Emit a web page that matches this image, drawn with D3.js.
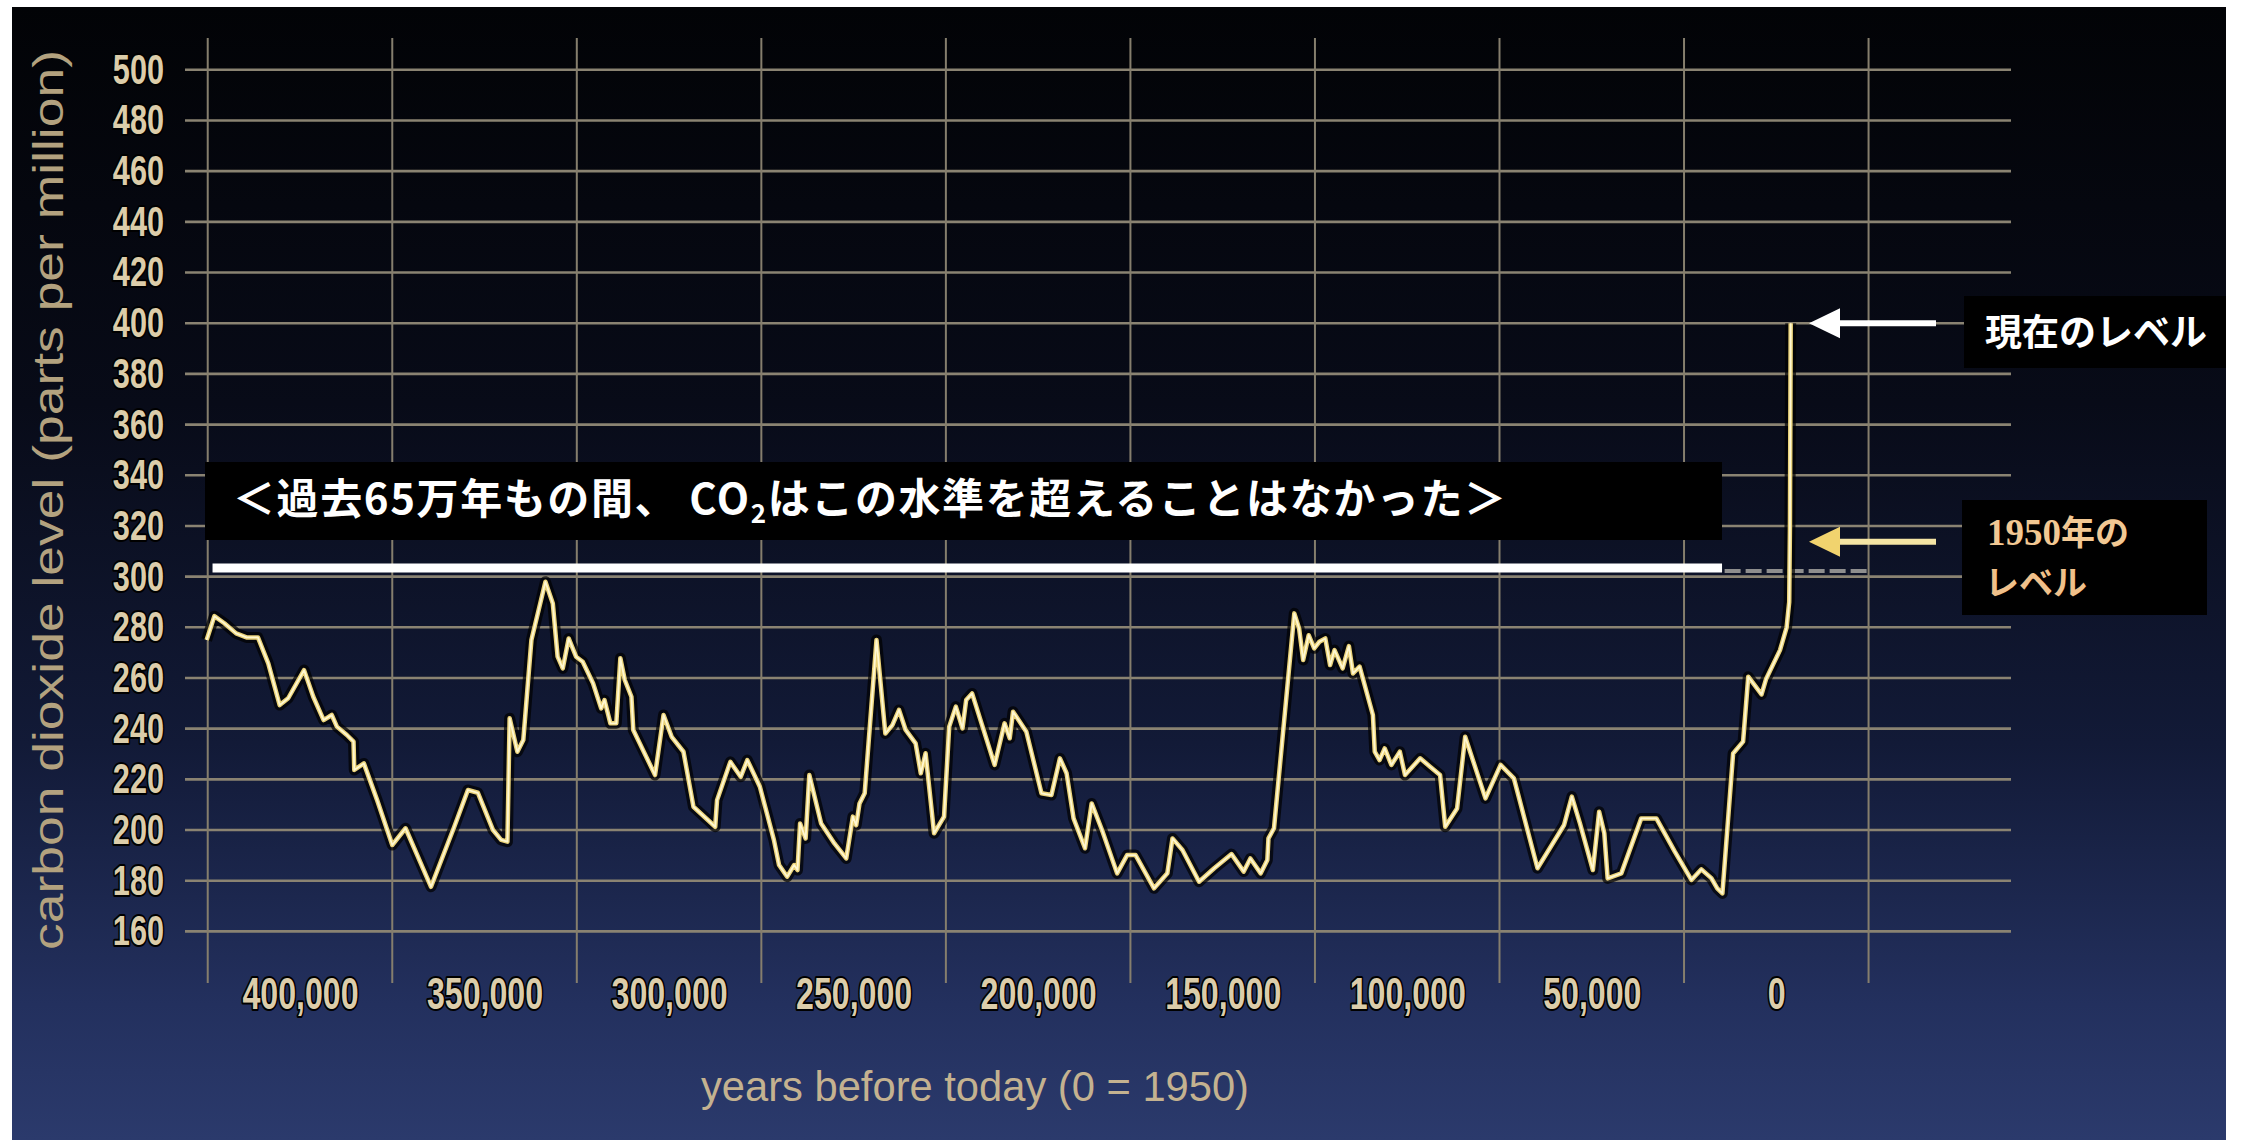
<!DOCTYPE html>
<html>
<head>
<meta charset="utf-8">
<script src="https://cdn.jsdelivr.net/npm/d3@7"></script>
<style>
body { margin:0; background:#ffffff; }
</style>
</head>
<body>
<div id="canvas"></div>
<script>
// thousands of years before 1950
var kyr = [425.3,423.2,420.5,417.3,414.5,411.4,408.6,405.5,403.2,398.9,396.4,393.6,391.4,390.0,387.3,385.5,385.3,382.7,379.1,375.0,
  371.4,364.5,358.2,354.5,351.8,347.7,345.5,343.8,343.2,341.1,339.5,337.3,333.5,331.5,330.2,328.8,327.2,325.2,323.4,320.6,
  318.4,317.5,315.9,314.3,313.2,312.0,310.2,309.7,303.8,301.5,299.3,296.1,293.4,287.5,287.0,283.4,280.6,278.8,275.4,271.6,
  270.2,268.0,266.1,265.2,264.5,263.0,262.0,258.8,255.2,252.0,250.2,249.3,248.4,247.0,243.8,241.4,239.5,237.7,235.9,233.2,
  231.8,230.5,228.2,225.5,224.1,222.3,220.5,219.5,217.9,211.8,209.1,207.7,206.8,203.2,199.1,196.4,194.1,192.3,190.4,187.3,
  185.5,182.7,178.6,175.9,173.6,168.6,165.0,163.6,160.9,156.4,152.3,147.6,144.3,142.5,139.7,137.9,137.6,136.1,130.6,129.3,
  128.2,126.7,125.2,123.8,122.2,120.9,119.7,117.5,115.8,114.7,112.9,109.3,108.8,107.5,106.1,104.3,102.0,100.6,96.5,93.8,
  91.1,89.7,86.5,84.3,78.8,74.7,71.1,64.7,57.5,55.4,53.2,49.7,48.0,46.6,45.7,42.0,36.6,32.5,27.5,23.0,
  20.3,17.6,16.0,14.6,11.7,9.0,7.6,4.0,2.8,-1.0,-2.8,-3.5,-3.7,-3.9];
var ppm = [275.0,284.4,281.6,277.6,276.0,276.0,265.8,249.3,252.0,263.1,252.6,243.4,245.4,240.8,237.5,234.9,223.7,226.3,211.8,194.1,
  200.7,177.6,201.3,215.8,214.7,200.0,196.1,195.4,244.1,230.9,235.5,275.0,298.0,289.4,268.4,263.8,275.6,268.4,266.4,257.9,
  248.0,251.3,242.1,242.1,267.8,259.2,252.6,239.5,221.7,245.4,236.8,230.9,209.2,201.3,211.8,226.9,221.0,227.6,217.1,196.1,
  186.2,181.6,186.2,184.2,202.6,196.7,221.7,202.6,194.7,188.8,205.3,201.9,210.5,214.5,275.0,238.1,241.4,247.4,239.5,234.2,
  222.4,230.3,198.7,205.3,240.8,248.7,240.1,251.3,253.9,225.7,242.1,236.2,246.7,238.8,214.5,213.8,228.3,222.4,204.6,192.8,
  210.5,200.0,182.9,190.1,190.1,177.0,182.9,196.7,192.1,179.6,184.9,190.5,183.6,188.8,182.9,188.2,196.7,200.7,285.5,279.6,
  267.1,276.9,271.7,274.3,275.6,265.1,271.0,263.8,272.6,261.8,264.5,245.4,230.9,227.6,232.2,225.7,230.9,221.7,228.3,225.0,
  221.7,201.3,208.5,236.8,212.5,225.7,220.4,184.9,202.0,213.2,202.6,184.2,207.2,198.7,180.9,182.9,204.6,204.6,191.5,180.3,
  184.5,181.0,177.0,175.0,230.2,234.9,260.5,253.5,259.5,271.0,280.0,290.0,320.0,400.0];

var yTicks = [160,180,200,220,240,260,280,300,320,340,360,380,400,420,440,460,480,500];
var xTicks = [400,350,300,250,200,150,100,50,0];
var xGrid = [425,375,325,275,225,175,125,75,25,-25];

var levelNow = 400;     // 現在のレベル
var level1950 = 313.8;  // 1950年のレベル
var ceiling = 303.4;    // white line the record never crossed
var ceilingSpan = [423.7, 14.7];
var dashSpan = [14.0, -25];

var svg = d3.select('#canvas').append('svg')
  .attr('width', 2244)
  .attr('height', 1148);

var grad = svg.append('defs').append('linearGradient')
  .attr('id', 'bg').attr('x1', 0).attr('y1', 0).attr('x2', 0).attr('y2', 1);
grad.append('stop').attr('offset', '0%').attr('stop-color', '#020306');
grad.append('stop').attr('offset', '35%').attr('stop-color', '#080b18');
grad.append('stop').attr('offset', '65%').attr('stop-color', '#121a37');
grad.append('stop').attr('offset', '88%').attr('stop-color', '#23305e');
grad.append('stop').attr('offset', '100%').attr('stop-color', '#2b3a6c');

svg.append('rect')
  .attr('x', 12).attr('y', 7)
  .attr('width', 2214).attr('height', 1133)
  .attr('fill', 'url(#bg)');

var x = d3.scaleLinear().domain([400, 0]).range([300, 1776.3]);
var y = d3.scaleLinear().domain([160, 500]).range([931.4, 69.8]);

// grid
svg.selectAll('.hgrid').data(yTicks).enter().append('line')
  .attr('class', 'hgrid')
  .attr('x1', 185).attr('x2', 2011)
  .attr('y1', function(d) { return y(d); })
  .attr('y2', function(d) { return y(d); })
  .attr('stroke', '#8a8372')
  .attr('stroke-width', 2.6);

svg.selectAll('.vgrid').data(xGrid).enter().append('line')
  .attr('class', 'vgrid')
  .attr('x1', function(d) { return x(d); })
  .attr('x2', function(d) { return x(d); })
  .attr('y1', 38).attr('y2', 983)
  .attr('stroke', '#857e6d')
  .attr('stroke-width', 2);

// tick labels
var labelFont = "'Liberation Sans', Arial, Helvetica, sans-serif";

var yAxis = svg.append('g')
  .attr('transform', 'translate(172,0)')
  .call(d3.axisLeft(y).tickValues(yTicks).tickSize(0).tickPadding(8));
yAxis.select('.domain').remove();
yAxis.selectAll('text')
  .style('font-family', labelFont)
  .style('font-size', '42px')
  .style('font-weight', 'bold')
  .attr('fill', '#dccdaa')
  .attr('stroke', '#000')
  .attr('stroke-width', 4)
  .attr('stroke-linejoin', 'round')
  .attr('paint-order', 'stroke');

var xAxis = svg.append('g')
  .attr('transform', 'translate(0,978)')
  .call(d3.axisBottom(x).tickValues(xTicks).tickSize(0).tickPadding(0)
    .tickFormat(function(d) { return d3.format(',')(d * 1000); }));
xAxis.select('.domain').remove();
xAxis.selectAll('text')
  .style('font-family', labelFont)
  .style('font-size', '44px')
  .style('font-weight', 'bold')
  .attr('fill', '#dccdaa')
  .attr('stroke', '#000')
  .attr('stroke-width', 4)
  .attr('stroke-linejoin', 'round')
  .attr('paint-order', 'stroke');

// the labels in the picture are squeezed sideways
svg.selectAll('.tick text').each(function() {
  var len = this.getComputedTextLength();
  d3.select(this).attr('textLength', len * 0.73).attr('lengthAdjust', 'spacingAndGlyphs');
});

svg.append('text')
  .attr('transform', 'translate(63,500) rotate(-90)')
  .attr('text-anchor', 'middle')
  .attr('textLength', 900)
  .attr('lengthAdjust', 'spacingAndGlyphs')
  .style('font-family', labelFont)
  .style('font-size', '42px')
  .attr('fill', '#b3a27f')
  .text('carbon dioxide level (parts per million)');

svg.append('text')
  .attr('x', 975).attr('y', 1101)
  .attr('text-anchor', 'middle')
  .attr('textLength', 548)
  .attr('lengthAdjust', 'spacingAndGlyphs')
  .style('font-family', labelFont)
  .style('font-size', '42px')
  .attr('fill', '#c4b290')
  .text('years before today (0 = 1950)');

// banner
svg.append('rect')
  .attr('x', 205).attr('y', 462)
  .attr('width', 1517).attr('height', 78)
  .attr('fill', '#000');

var jp = "'Noto Sans CJK JP', 'Noto Sans', sans-serif";
var banner = svg.append('text')
  .attr('x', 233).attr('y', 514)
  .style('font-family', jp)
  .style('font-size', '42px')
  .style('font-weight', 'bold')
  .style('letter-spacing', '1.6px')
  .attr('fill', '#ffffff');
banner.append('tspan').text('＜過去65万年もの間、 CO');
banner.append('tspan').attr('dy', 9).style('font-size', '26px').text('2');
banner.append('tspan').attr('dy', -9).text('はこの水準を超えることはなかった＞');

// ceiling line and its dashed tail
svg.append('line')
  .attr('x1', x(ceilingSpan[0])).attr('x2', x(ceilingSpan[1]))
  .attr('y1', y(ceiling)).attr('y2', y(ceiling))
  .attr('stroke', '#ffffff')
  .attr('stroke-width', 9);

svg.append('line')
  .attr('x1', x(dashSpan[0])).attr('x2', x(dashSpan[1]))
  .attr('y1', y(ceiling - 1.2)).attr('y2', y(ceiling - 1.2))
  .attr('stroke', '#8e8e8e')
  .attr('stroke-width', 4)
  .attr('stroke-dasharray', '16 5');

// CO2 curve
var pts = kyr.map(function(d, i) { return [d, ppm[i]]; });
var line = d3.line()
  .x(function(d) { return x(d[0]); })
  .y(function(d) { return y(d[1]); });

svg.append('path')
  .datum(pts)
  .attr('d', line)
  .attr('fill', 'none')
  .attr('stroke', '#000')
  .attr('stroke-opacity', 0.7)
  .attr('stroke-width', 11)
  .attr('stroke-linejoin', 'round');

svg.append('path')
  .datum(pts)
  .attr('d', line)
  .attr('fill', 'none')
  .attr('stroke', '#ead27a')
  .attr('stroke-width', 4.5)
  .attr('stroke-linejoin', 'round');

svg.append('path')
  .datum(pts)
  .attr('d', line)
  .attr('fill', 'none')
  .attr('stroke', '#fff8d2')
  .attr('stroke-width', 1.8)
  .attr('stroke-linejoin', 'round');

// arrows
function arrow(yv, shaftColor, headColor) {
  svg.append('line')
    .attr('x1', 1834).attr('x2', 1936)
    .attr('y1', yv).attr('y2', yv)
    .attr('stroke', shaftColor)
    .attr('stroke-width', 6);
  svg.append('path')
    .attr('d', 'M1809,' + yv + ' L1840,' + (yv - 15) + ' L1840,' + (yv + 15) + ' Z')
    .attr('fill', headColor);
}
arrow(y(levelNow), '#ffffff', '#ffffff');
arrow(y(level1950), '#f4e4a4', '#f1d36e');

// right hand notes
svg.append('rect')
  .attr('x', 1964).attr('y', 296)
  .attr('width', 262).attr('height', 72)
  .attr('fill', '#000');

svg.append('text')
  .attr('x', 1985).attr('y', 346)
  .style('font-family', jp)
  .style('font-size', '37px')
  .style('font-weight', 'bold')
  .attr('fill', '#ffffff')
  .text('現在のレベル');

svg.append('rect')
  .attr('x', 1962).attr('y', 500)
  .attr('width', 245).attr('height', 115)
  .attr('fill', '#000');

var note = svg.append('text')
  .attr('x', 1987).attr('y', 545)
  .style('font-size', '34px')
  .style('font-weight', 'bold')
  .attr('fill', '#f2c893');
note.append('tspan')
  .style('font-family', "'Liberation Serif', 'DejaVu Serif', serif")
  .style('font-size', '37px')
  .text('1950');
note.append('tspan')
  .style('font-family', jp)
  .text('年の');

svg.append('text')
  .attr('x', 1985).attr('y', 595)
  .style('font-family', jp)
  .style('font-size', '34px')
  .style('font-weight', 'bold')
  .attr('fill', '#f0c08a')
  .text('レベル');
</script>
</body>
</html>
